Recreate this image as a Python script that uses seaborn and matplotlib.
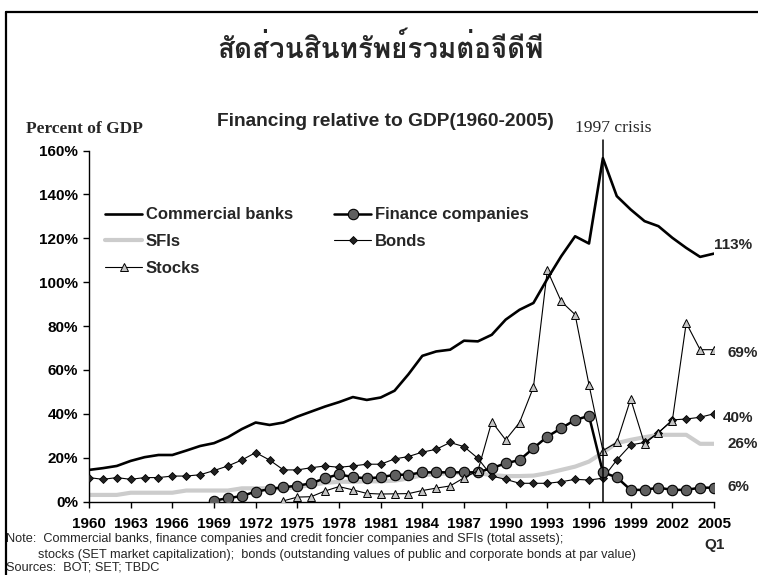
import numpy as np
import pandas as pd
import matplotlib
matplotlib.use("Agg")
import matplotlib.pyplot as plt
from matplotlib import font_manager
from matplotlib.ft2font import FT2Font
from matplotlib.lines import Line2D
import seaborn as sns

# ---- data (percent of GDP) -------------------------------------------------
years = list(range(1960, 2006))

commercial_banks = [14.4, 15.2, 16.2, 18.5, 20.2, 21.2, 21.2, 23.2, 25.3, 26.6,
                    29.3, 33.0, 36.0, 34.9, 36.0, 38.7, 41.0, 43.3, 45.3, 47.6,
                    46.3, 47.4, 50.5, 58.0, 66.4, 68.4, 69.2, 73.3, 73.0, 76.0,
                    82.9, 87.4, 90.5, 101.5, 111.8, 120.9, 117.6, 156.5, 139.2, 133.1,
                    127.8, 125.5, 120.2, 115.6, 111.5, 113.0]

finance_years = list(range(1969, 2006))
finance_companies = [0.4, 1.5, 2.5, 4.5, 5.6, 6.5, 7.2, 8.3, 10.6, 12.4,
                     11.1, 10.6, 11.0, 12.2, 12.2, 13.3, 13.3, 13.3, 13.3, 13.3,
                     15.2, 17.4, 18.9, 24.3, 29.6, 33.4, 37.2, 39.0, 13.3, 11.0,
                     5.3, 5.3, 6.3, 5.3, 5.3, 6.3, 6.3]

sfis = [3.0, 3.0, 3.0, 4.0, 4.0, 4.0, 4.0, 5.0, 5.0, 5.0,
        5.0, 6.0, 6.0, 6.0, 6.0, 6.5, 7.5, 8.5, 9.0, 9.0,
        9.2, 9.2, 9.5, 10.5, 12.0, 12.5, 13.0, 13.0, 13.0, 12.0,
        11.6, 11.6, 11.8, 12.9, 14.4, 15.9, 18.2, 22.3, 26.6, 28.1,
        29.3, 30.4, 30.4, 30.4, 26.3, 26.3]

bonds = [10.9, 10.1, 10.9, 10.1, 10.9, 10.9, 11.6, 11.6, 12.2, 14.1,
         16.2, 18.9, 22.3, 18.9, 14.4, 14.4, 15.4, 16.2, 15.6, 16.2,
         17.0, 17.0, 19.4, 20.5, 22.5, 23.8, 26.9, 25.0, 19.7, 11.6,
         10.1, 8.3, 8.3, 8.3, 9.0, 10.1, 9.8, 10.6, 18.9, 25.8,
         26.9, 31.4, 37.2, 37.6, 38.4, 40.0]

stock_years = list(range(1974, 2006))
stocks = [0.3, 2.0, 2.2, 4.8, 6.8, 5.3, 3.7, 3.4, 3.5, 3.6,
          5.0, 6.1, 7.1, 10.8, 14.0, 36.4, 28.1, 36.0, 52.1, 105.4,
          91.2, 85.2, 53.2, 23.2, 26.9, 46.7, 26.3, 31.4, 36.9, 81.4,
          69.2, 69.2]

crisis_year = 1997
end_labels = ["113%", "69%", "40%", "26%", "6%"]
x_ticks = list(range(1960, 2006, 3))
y_ticks = list(range(0, 161, 20))

# ---- style -------------------------------------------------------------------
sns.set_theme(style="ticks")
plt.rcParams["font.family"] = ["Liberation Sans", "DejaVu Sans"]
plt.rcParams["axes.linewidth"] = 1.0


def find_thai_font():
    """Return a family that can render Thai script, preferring bold faces."""
    found = []
    for f in font_manager.fontManager.ttflist:
        try:
            cmap = FT2Font(f.fname).get_charmap()
        except Exception:
            continue
        if 0x0E2A in cmap and 0x0E31 in cmap:
            found.append(f)
    if not found:
        return None
    found.sort(key=lambda f: (0 if "Looped" not in f.name else 1,
                              0 if f.weight in ("bold", 700) else 1))
    return found[0].name


thai_family = find_thai_font()

W, H = 758, 575
fig = plt.figure(figsize=(W / 100, H / 100), dpi=100)
fig.patch.set_facecolor("white")

ax_l, ax_r, ax_t, ax_b = 89, 714, 150.5, 501.5
ax = fig.add_axes([ax_l / W, 1 - ax_b / H, (ax_r - ax_l) / W, (ax_b - ax_t) / H])
ax.set_facecolor("white")

# ---- series --------------------------------------------------------------------
sns.lineplot(x=years, y=sfis, ax=ax, color="#cccccc", linewidth=3.0,
             label="SFIs", zorder=2)
h_sfi = ax.lines[-1]

sns.lineplot(x=years, y=bonds, ax=ax, color="black", linewidth=0.8,
             marker="D", markersize=4.2, markerfacecolor="#222222",
             markeredgecolor="black", markeredgewidth=0.6,
             label="Bonds", zorder=3)
h_bond = ax.lines[-1]

sns.lineplot(x=finance_years, y=finance_companies, ax=ax, color="black",
             linewidth=1.8, marker="o", markersize=7.5,
             markerfacecolor="#5f5f5f", markeredgecolor="black",
             markeredgewidth=0.8, label="Finance companies", zorder=4)
h_fin = ax.lines[-1]

sns.lineplot(x=stock_years, y=stocks, ax=ax, color="black", linewidth=0.8,
             marker="^", markersize=6, markerfacecolor="#c4c4c4",
             markeredgecolor="black", markeredgewidth=0.7,
             label="Stocks", zorder=5)
h_stock = ax.lines[-1]

sns.lineplot(x=years, y=commercial_banks, ax=ax, color="black", linewidth=1.9,
             label="Commercial banks", zorder=6)
h_cb = ax.lines[-1]

# crisis marker line, running up into its caption
ax.axvline(crisis_year, ymin=0, ymax=1.03, color="black", linewidth=1.1,
           clip_on=False, zorder=7)

# ---- axes ------------------------------------------------------------------------
ax.set_xlim(1960, 2005)
ax.set_ylim(0, 160)
ax.set_xticks(x_ticks)
ax.set_xticklabels([str(v) for v in x_ticks], fontsize=11, fontweight="bold")
ax.set_yticks(y_ticks)
ax.set_yticklabels([f"{v}%" for v in y_ticks], fontsize=11, fontweight="bold")
ax.tick_params(axis="both", direction="out", length=4, width=1, color="black",
               labelcolor="black")
ax.tick_params(axis="x", pad=7)
ax.tick_params(axis="y", pad=4)
ax.set_xlabel("")
ax.set_ylabel("")
for side in ("top", "right"):
    ax.spines[side].set_visible(False)
for side in ("left", "bottom"):
    ax.spines[side].set_color("black")

# ---- legend (3 rows x 2 columns) -------------------------------------------------
leg = ax.legend(handles=[h_cb, h_sfi, h_stock, h_fin, h_bond],
                labels=["Commercial banks", "SFIs", "Stocks",
                        "Finance companies", "Bonds"],
                ncol=2, loc="upper left", bbox_to_anchor=(0.026, 0.838),
                frameon=False, prop={"weight": "bold", "size": 12},
                handlelength=2.2, handletextpad=0.22, labelspacing=0.70,
                columnspacing=2.5, borderaxespad=0, borderpad=0)

# ---- end-of-series value labels --------------------------------------------------
end_values = [commercial_banks[-1], stocks[-1], bonds[-1], sfis[-1],
              finance_companies[-1]]
end_offsets = [(0, 9), (13, -3), (9, -4), (14, 0), (13, 1)]
for txt, val, (dx, dy) in zip(end_labels, end_values, end_offsets):
    ax.annotate(txt, xy=(years[-1], val), xytext=(dx, dy),
                textcoords="offset pixels", ha="left", va="center",
                fontsize=11, fontweight="bold", annotation_clip=False)

# ---- titles and captions --------------------------------------------------------
title_family = [thai_family, "DejaVu Sans"] if thai_family else ["DejaVu Sans"]
fig.text(380 / W, 1 - 48 / H, "สัดส่วนสินทรัพย์รวมต่อจีดีพี",
         ha="center", va="center", fontsize=20, fontweight="bold",
         family=title_family)
fig.text(385 / W, 1 - 121 / H, "Financing relative to GDP(1960-2005)",
         ha="center", va="center", fontsize=13.8, fontweight="bold")
fig.text(26 / W, 1 - 129 / H, "Percent of GDP", ha="left", va="center",
         fontsize=12.5, fontweight="bold", family="Liberation Serif")
fig.text(575 / W, 1 - 128 / H, "1997 crisis", ha="left", va="center",
         fontsize=12.6, family="Liberation Serif")
fig.text(715 / W, 1 - 545 / H, "Q1", ha="center", va="center",
         fontsize=11, fontweight="bold")

note_family = ["Liberation Sans Narrow", "Liberation Sans", "DejaVu Sans"]
fig.text(6 / W, 1 - 539 / H,
         "Note:  Commercial banks, finance companies and credit foncier "
         "companies and SFIs (total assets);",
         ha="left", va="center", fontsize=9.2, family=note_family)
fig.text(38 / W, 1 - 555 / H,
         "stocks (SET market capitalization);  bonds (outstanding values of "
         "public and corporate bonds at par value)",
         ha="left", va="center", fontsize=9.2, family=note_family)
fig.text(6 / W, 1 - 567 / H, "Sources:  BOT; SET; TBDC",
         ha="left", va="center", fontsize=9.2, family=note_family)

# ---- outer frame (left and top edges) --------------------------------------------
fig.add_artist(Line2D([6 / W, 6 / W], [0, 1 - 12 / H], color="black",
                      linewidth=1.6, transform=fig.transFigure))
fig.add_artist(Line2D([6 / W, 1], [1 - 12 / H, 1 - 12 / H], color="black",
                      linewidth=1.6, transform=fig.transFigure))

fig.savefig("out.png", dpi=100)
